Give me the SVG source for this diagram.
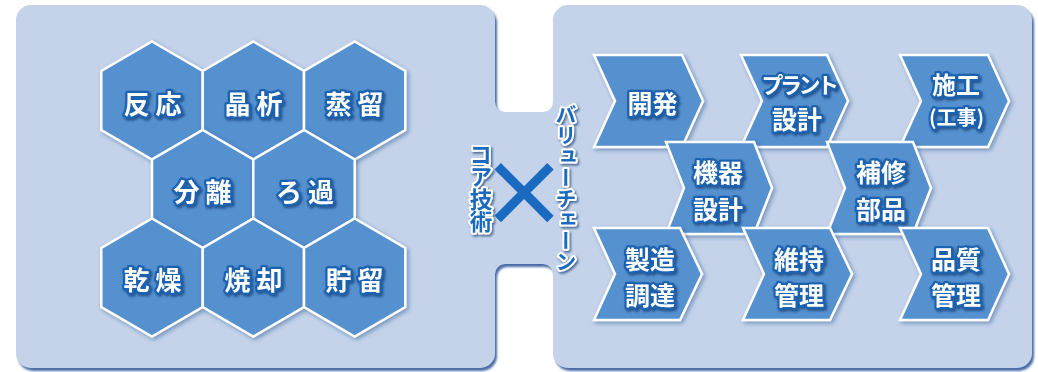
<svg xmlns="http://www.w3.org/2000/svg" width="1038" height="372" viewBox="0 0 1038 372">
<defs>
<filter id="psh" x="-5%" y="-5%" width="110%" height="110%">
<feDropShadow dx="2" dy="3" stdDeviation="1.2" flood-color="#3f65a3" flood-opacity="0.95"/>
</filter>
<filter id="ssh" x="-10%" y="-10%" width="125%" height="125%">
<feDropShadow dx="2" dy="2" stdDeviation="2" flood-color="#1f4680" flood-opacity="0.45"/>
</filter>
<filter id="tsh" x="-10%" y="-10%" width="130%" height="130%">
<feDropShadow dx="1.5" dy="1.8" stdDeviation="1" flood-color="#0b376d" flood-opacity="0.7"/>
</filter>
<style>
.hex{fill:#5590cf;stroke:#ffffff;stroke-width:2.5;stroke-linejoin:miter;filter:url(#ssh)}
.chev{fill:#5590cf;stroke:#ffffff;stroke-width:2.5;stroke-linejoin:miter;filter:url(#ssh)}
.lbl{font-family:"Noto Sans CJK JP","Noto Sans CJK SC",sans-serif;font-weight:700;fill:#ffffff;stroke:#1a62b0;stroke-width:4.5;paint-order:stroke;stroke-linejoin:round;text-anchor:middle;dominant-baseline:central;filter:url(#tsh)}
.hl{font-size:26px;letter-spacing:6px}
.cl{font-size:25px}
.vt{font-family:"Noto Sans CJK JP","Noto Sans CJK SC",sans-serif;font-weight:700;fill:#1a6bbf;stroke:#ffffff;stroke-width:4;paint-order:stroke;stroke-linejoin:round;text-anchor:middle;writing-mode:vertical-rl;filter:url(#tsh)}
</style>
</defs>
<rect width="1038" height="372" fill="#ffffff"/>
<g id="panel">
<path filter="url(#psh)" fill="#c4d3ea" d="M31,5 H480 A15,15 0 0 1 495,20 V102 A10,10 0 0 0 505,112 H543 A10,10 0 0 0 553,102 V20 A15,15 0 0 1 568,5 H1017 A15,15 0 0 1 1032,20 V353 A15,15 0 0 1 1017,368 H568 A15,15 0 0 1 553,353 V274 A10,10 0 0 0 543,264 H505 A10,10 0 0 0 495,274 V353 A15,15 0 0 1 480,368 H31 A15,15 0 0 1 16,353 V20 A15,15 0 0 1 31,5 Z"/>
</g>
<g id="connectors"/>
<g id="hex-hanno"><polygon class="hex" points="152,41.5 202.7,71 202.7,130 152,159.5 101.3,130 101.3,71"/><text class="lbl hl" x="155.5" y="102">反応</text></g>
<g id="hex-shoseki"><polygon class="hex" points="253.3,41.5 304,71 304,130 253.3,159.5 202.7,130 202.7,71"/><text class="lbl hl" x="256.5" y="102">晶析</text></g>
<g id="hex-jouryu"><polygon class="hex" points="354.7,41.5 405.3,71 405.3,130 354.7,159.5 304,130 304,71"/><text class="lbl hl" x="357.5" y="102">蒸留</text></g>
<g id="hex-bunri"><polygon class="hex" points="202.7,130 253.3,159.5 253.3,218.5 202.7,248 152,218.5 152,159.5"/><text class="lbl hl" x="205.5" y="190">分離</text></g>
<g id="hex-roka"><polygon class="hex" points="304,130 354.7,159.5 354.7,218.5 304,248 253.3,218.5 253.3,159.5"/><text class="lbl hl" x="308" y="190">ろ過</text></g>
<g id="hex-kanso"><polygon class="hex" points="152,218.5 202.7,248 202.7,307 152,336.5 101.3,307 101.3,248"/><text class="lbl hl" x="155.5" y="278">乾燥</text></g>
<g id="hex-shokyaku"><polygon class="hex" points="253.3,218.5 304,248 304,307 253.3,336.5 202.7,307 202.7,248"/><text class="lbl hl" x="256.5" y="278">焼却</text></g>
<g id="hex-choryu"><polygon class="hex" points="354.7,218.5 405.3,248 405.3,307 354.7,336.5 304,307 304,248"/><text class="lbl hl" x="357.5" y="278">貯留</text></g>
<g id="core-tech"><text class="vt" x="481" y="188" style="font-size:22.5px">コア技術</text></g>
<g id="cross"><text x="524" y="188" style="font-family:'Noto Sans CJK JP',sans-serif;font-size:90px;font-weight:700;fill:#1a6bbf;text-anchor:middle;dominant-baseline:central">×</text></g>
<g id="value-chain"><text class="vt" x="566" y="187.5" style="font-size:21px">バリューチェーン</text></g>
<g id="chev-kaihatsu"><polygon class="chev" points="594,55 682,55 703,101 682,147 594,147 615,101"/><text class="lbl cl" x="652.5" y="101.5">開発</text></g>
<g id="chev-plant"><polygon class="chev" points="741,55 827,55 848,101 827,147 741,147 762,101"/><text class="lbl" x="798.5" y="82.5" style="font-size:22px;letter-spacing:-3.5px">プラント</text><text class="lbl cl" x="797" y="117.5">設計</text></g>
<g id="chev-seko"><polygon class="chev" points="900,55 988,55 1009,101 988,147 900,147 921,101"/><text class="lbl" x="956" y="83" style="font-size:24px">施工</text><text class="lbl" x="956.5" y="116" style="font-size:20px">(工事)</text></g>
<g id="chev-kiki"><polygon class="chev" points="666,142 754,142 772,188 754,234 666,234 684,188"/><text class="lbl cl" x="718" y="171">機器</text><text class="lbl cl" x="718" y="207.5">設計</text></g>
<g id="chev-hoshu"><polygon class="chev" points="827,142 913,142 931,188 913,234 827,234 845,188"/><text class="lbl cl" x="881" y="171">補修</text><text class="lbl cl" x="881" y="207.5">部品</text></g>
<g id="chev-seizo"><polygon class="chev" points="594,228 680,228 702,274 680,320 594,320 615,274"/><text class="lbl cl" x="650" y="257.5">製造</text><text class="lbl cl" x="650" y="293.5">調達</text></g>
<g id="chev-iji"><polygon class="chev" points="743,228 830,228 852,274 830,320 743,320 764,274"/><text class="lbl cl" x="799" y="257.5">維持</text><text class="lbl cl" x="799" y="293.5">管理</text></g>
<g id="chev-hinshitsu"><polygon class="chev" points="900,228 988,228 1009,274 988,320 900,320 921,274"/><text class="lbl cl" x="956" y="257.5">品質</text><text class="lbl cl" x="956" y="293.5">管理</text></g>
</svg>
